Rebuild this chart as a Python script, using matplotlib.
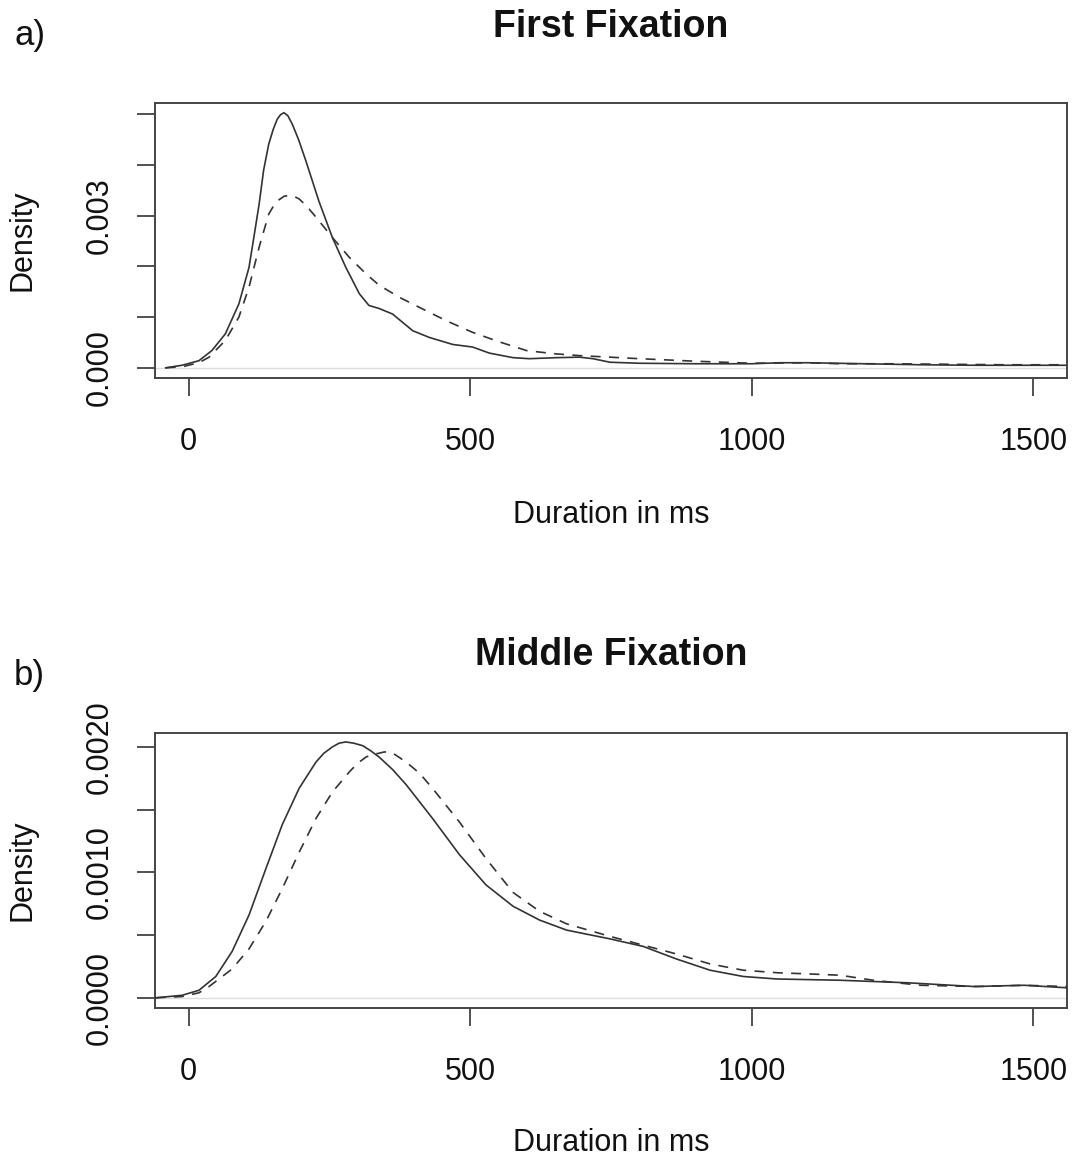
import numpy as np
import matplotlib
matplotlib.use("Agg")
import matplotlib.pyplot as plt

plt.rcParams["font.family"] = ["Liberation Sans", "DejaVu Sans"]

# panel a) first fixation (ms, density)
first_solid_x = [-41, -12, 18, 41, 65, 89, 107, 116, 125, 133, 142, 150, 157, 163, 169,
                 176, 184, 195, 208, 231, 255, 279, 303, 320, 338, 362, 398, 427, 469,
                 504, 534, 576, 605, 653, 694, 718, 748, 800, 900, 1000, 1050, 1100,
                 1200, 1300, 1400, 1500, 1560]
first_solid_y = [0.0, 0.00005, 0.00014, 0.00034, 0.00067, 0.00126, 0.00198, 0.0026,
                 0.00323, 0.0039, 0.00441, 0.0047, 0.0049, 0.00499, 0.00503, 0.00497,
                 0.0048, 0.0045, 0.00408, 0.00329, 0.00257, 0.00198, 0.00146, 0.00123,
                 0.00117, 0.00106, 0.00073, 0.0006, 0.00046, 0.00041, 0.00029, 0.0002,
                 0.00018, 0.0002, 0.00021, 0.00018, 0.00011, 0.00009, 0.00008, 0.00008,
                 0.0001, 0.0001, 0.00008, 0.00006, 0.00005, 0.00005, 0.00005]
first_dash_x = [-41, -12, 18, 36, 65, 89, 107, 125, 142, 151, 160, 169, 178, 187, 196,
                210, 226, 255, 285, 315, 338, 374, 410, 457, 504, 552, 600, 647, 694,
                748, 800, 900, 1000, 1100, 1157, 1250, 1350, 1450, 1560]
first_dash_y = [0.0, 0.00002, 0.0001, 0.00021, 0.00054, 0.001, 0.00159, 0.00238, 0.00303,
                0.0032, 0.00331, 0.00338, 0.0034, 0.00338, 0.00333, 0.00318, 0.00297,
                0.00257, 0.00218, 0.00185, 0.00163, 0.00139, 0.00119, 0.00093, 0.0007,
                0.00051, 0.00034, 0.00028, 0.00024, 0.00021, 0.00018, 0.00013, 0.00009,
                0.0001, 0.00008, 0.00008, 0.00007, 0.00006, 0.00006]

# panel b) middle fixation
mid_solid_x = [-59, -12, 18, 48, 77, 107, 137, 166, 196, 226, 240, 255, 267, 279, 293,
               309, 323, 338, 362, 386, 433, 481, 528, 576, 623, 671, 748, 807, 866,
               926, 985, 1045, 1157, 1276, 1395, 1484, 1560]
mid_solid_y = [0.0, 0.00002, 0.00006, 0.00017, 0.00037, 0.00066, 0.00103, 0.00138,
               0.00167, 0.00188, 0.00195, 0.002, 0.00203, 0.00204, 0.00203, 0.00201,
               0.00197, 0.00192, 0.00182, 0.0017, 0.00143, 0.00114, 0.0009, 0.00073,
               0.00062, 0.00054, 0.00047, 0.00041, 0.00031, 0.00022, 0.00017, 0.00015,
               0.00014, 0.00012, 0.00009, 0.0001, 0.00008]
mid_dash_x = [-59, -12, 18, 36, 77, 107, 137, 166, 196, 226, 255, 285, 300, 315, 327,
              338, 347, 356, 366, 386, 410, 433, 481, 528, 576, 623, 671, 748, 807, 866,
              926, 985, 1045, 1104, 1157, 1216, 1300, 1400, 1484, 1560]
mid_dash_y = [0.0, 0.00001, 0.00004, 0.00009, 0.00023, 0.00039, 0.00061, 0.00087,
              0.00116, 0.00143, 0.00164, 0.0018, 0.00187, 0.00192, 0.00194, 0.00195,
              0.00196, 0.00196, 0.00194, 0.00188, 0.00179, 0.00167, 0.0014, 0.00111,
              0.00084, 0.00069, 0.00059, 0.00049, 0.00042, 0.00035, 0.00027, 0.00022,
              0.0002, 0.00019, 0.00018, 0.00014, 0.0001, 0.00009, 0.0001, 0.00009]

x_ticks = [0, 500, 1000, 1500]
first_yticks = [0.0, 0.001, 0.002, 0.003, 0.004, 0.005]
first_ylabels = ["0.000", "", "", "0.003", "", ""]
mid_yticks = [0.0, 0.0005, 0.001, 0.0015, 0.002]
mid_ylabels = ["0.0000", "", "0.0010", "", "0.0020"]

W, H = 1076, 1163
fig = plt.figure(figsize=(W / 100, H / 100), dpi=100)


def panel(rect, sx, sy, dx, dy, yticks, ylabels, ymax):
    ax = fig.add_axes(rect)
    ax.axhline(0, color="#dcdcdc", lw=1.0, zorder=1)
    ax.plot(sx, sy, color="#333333", lw=1.2, zorder=3)
    ax.plot(dx, dy, color="#333333", lw=1.2, dashes=(6, 5), zorder=3)
    ax.set_xlim(-60, 1560)
    ax.set_ylim(-0.04 * ymax, 1.04 * ymax)
    ax.set_xticks(x_ticks)
    ax.set_xticklabels([str(t) for t in x_ticks])
    ax.set_yticks(yticks)
    ax.set_yticklabels(ylabels, rotation=90, va="center")
    ax.tick_params(direction="out", length=13, width=1.2, color="#333333",
                   labelsize=22, labelcolor="#111111")
    ax.tick_params(axis="x", pad=22)
    ax.tick_params(axis="y", pad=16)
    for s in ax.spines.values():
        s.set_linewidth(1.4)
        s.set_color("#444444")
    return ax


panel([155 / W, 1 - 378 / H, 912 / W, 275 / H],
      first_solid_x, first_solid_y, first_dash_x, first_dash_y,
      first_yticks, first_ylabels, 0.00502)
panel([155 / W, 1 - 1008 / H, 912 / W, 275 / H],
      mid_solid_x, mid_solid_y, mid_dash_x, mid_dash_y,
      mid_yticks, mid_ylabels, 0.00203)

# titles, panel letters and axis labels
fig.text(611 / W, 1 - 27 / H, "First Fixation", ha="center", va="center",
         fontsize=27, fontweight="bold", color="#111111")
fig.text(611 / W, 1 - 655 / H, "Middle Fixation", ha="center", va="center",
         fontsize=27, fontweight="bold", color="#111111")
fig.text(14 / W, 1 - 35 / H, "a)", ha="left", va="center", fontsize=25, color="#111111")
fig.text(14 / W, 1 - 676 / H, "b)", ha="left", va="center", fontsize=25, color="#111111")
for yc in (515, 1143):
    fig.text(611 / W, 1 - yc / H, "Duration in ms", ha="center", va="center",
             fontsize=22, color="#111111")
for yc in (240, 870):
    fig.text(22 / W, 1 - yc / H, "Density", ha="center", va="center",
             rotation=90, fontsize=22, color="#111111")

fig.savefig("out.png", dpi=100)
